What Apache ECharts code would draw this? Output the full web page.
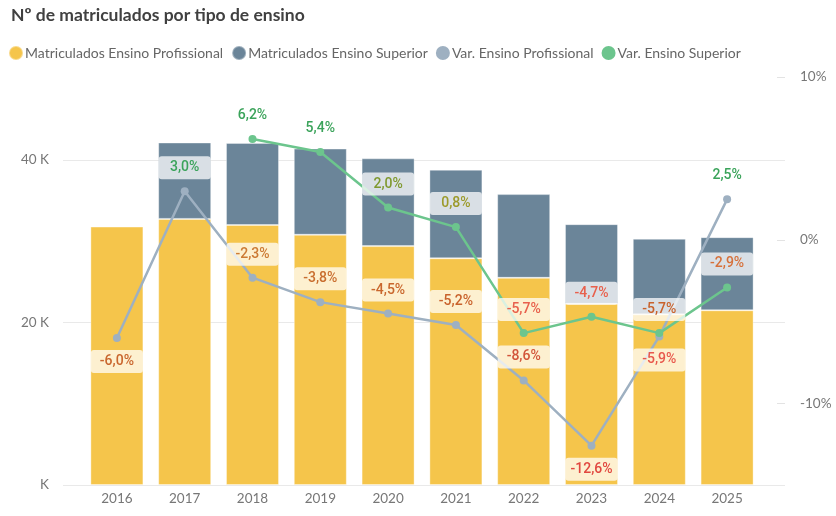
<!DOCTYPE html>
<html>
<head>
<meta charset="utf-8">
<title>Matriculados por tipo de ensino</title>
<script src="https://cdn.jsdelivr.net/npm/echarts@6/dist/echarts.min.js"></script>
<style>
  html, body { margin: 0; padding: 0; background: #fff; }
  #main { width: 836px; height: 516px; }
</style>
</head>
<body>
<div id="main"></div>
<script type="text/javascript">
// data
var years = ['2016', '2017', '2018', '2019', '2020', '2021', '2022', '2023', '2024', '2025'];
var matProfissional = [31800, 32750, 32000, 30800, 29400, 27900, 25500, 22300, 21000, 21500];
var matSuperior = [null, 9400, 10100, 10600, 10800, 10900, 10300, 9800, 9300, 9000];
var varProfissional = [-6.0, 3.0, -2.3, -3.8, -4.5, -5.2, -8.6, -12.6, -5.9, 2.5];
var varSuperior = [null, null, 6.2, 5.4, 2.0, 0.8, -5.7, -4.7, -5.7, -2.9];
var rightTicks = [-10, 0, 10];

// label styling (colours per point, as in the report)
var corProf = ['#c9652d', '#3aa35a', '#cc7a34', '#c96e2f', '#c9672d', '#c9622c', '#d2553a', '#e1473f', '#e8584c', '#3aa35a'];
var corSup = [null, null, '#3aa35a', '#3aa35a', '#7f992e', '#9c9a2a', '#e8604c', '#e8604c', '#c9622c', '#d6703a'];
var posProf = ['bottom', 'top', 'top', 'top', 'top', 'top', 'top', 'bottom', 'bottom', 'top'];

var fontTxt = "'Segoe UI', 'Lato', 'Noto Sans', sans-serif";
var fontLbl = "'Roboto', 'DejaVu Sans', sans-serif";

function pct(v) {
  return v.toFixed(1).replace('.', ',') + '%';
}

function lineData(vals, cores, pos) {
  var out = [];
  for (var i = 0; i < vals.length; i++) {
    if (vals[i] === null) { out.push(null); continue; }
    out.push({
      value: vals[i],
      label: {
        color: cores[i],
        position: pos ? pos[i] : 'top'
      }
    });
  }
  return out;
}

var lblBase = {
  show: true,
  distance: 8,
  fontFamily: fontLbl,
  fontSize: 14,
  fontWeight: 500,
  padding: [0, 0],
  width: 52,
  height: 23,
  lineHeight: 23,
  align: 'center',
  backgroundColor: 'rgba(255,255,255,0.74)',
  borderRadius: 3,
  formatter: function (p) { return pct(p.value); }
};

var myChart = echarts.init(document.getElementById('main'));

var option = {
  animation: false,
  title: {
    text: 'Nº de matriculados por tipo de ensino',
    left: 6,
    top: 1,
    textStyle: { fontFamily: fontTxt, fontSize: 17.5, fontWeight: 'bold', color: '#404040' }
  },
  legend: {
    left: 3,
    top: 40,
    icon: 'circle',
    itemWidth: 14,
    itemHeight: 14,
    itemGap: 8,
    textStyle: { fontFamily: fontTxt, fontSize: 14, color: '#666', padding: [0, 0, 0, -3] },
    data: ['Matriculados Ensino Profissional', 'Matriculados Ensino Superior', 'Var. Ensino Profissional', 'Var. Ensino Superior']
  },
  grid: [
    { left: 63, right: 51, top: 77, bottom: 31 },
    { left: 83, right: 75, top: 77, bottom: 31 }
  ],
  xAxis: [
    { type: 'category', gridIndex: 0, data: years, show: false },
    {
      type: 'category', gridIndex: 1, data: years,
      axisLine: { show: false },
      axisTick: { show: false },
      axisLabel: { color: '#777', fontFamily: fontTxt, fontSize: 13.5, margin: 7 }
    }
  ],
  yAxis: [
    {
      type: 'value', gridIndex: 0, position: 'left',
      min: 0, max: 50215, interval: 20000,
      axisLine: { show: false },
      axisTick: { show: false },
      splitLine: { show: true, showMaxLine: false, lineStyle: { color: '#e9e9e9', width: 1 } },
      axisLabel: {
        showMaxLabel: false,
        color: '#777', fontFamily: fontTxt, fontSize: 13.5, margin: 14,
        formatter: function (v) { return v === 0 ? 'K' : (v / 1000) + ' K'; }
      }
    },
    {
      type: 'value', gridIndex: 0, position: 'right',
      min: -15.01, max: 10,
      axisLine: { show: false },
      axisTick: { show: true, inside: true, length: 8, customValues: rightTicks, lineStyle: { color: '#e3e3e3' } },
      splitLine: { show: false },
      axisLabel: {
        customValues: rightTicks,
        color: '#777', fontFamily: fontTxt, fontSize: 13.5, margin: 15,
        formatter: function (v) { return v + '%'; }
      }
    },
    { type: 'value', gridIndex: 1, min: 0, max: 50215, show: false, splitLine: { show: false } },
    { type: 'value', gridIndex: 1, min: -15.01, max: 10, show: false, splitLine: { show: false } }
  ],
  series: [
    {
      name: 'Matriculados Ensino Profissional',
      type: 'bar', stack: 'mat',
      xAxisIndex: 1, yAxisIndex: 2,
      barWidth: 53,
      itemStyle: { color: '#f5c54b', borderColor: 'rgba(255,255,255,0.35)', borderWidth: 1 },
      data: matProfissional
    },
    {
      name: 'Matriculados Ensino Superior',
      type: 'bar', stack: 'mat',
      xAxisIndex: 1, yAxisIndex: 2,
      barWidth: 53,
      itemStyle: { color: '#6b8599', borderColor: 'rgba(255,255,255,0.35)', borderWidth: 1 },
      data: matSuperior
    },
    {
      name: 'Var. Ensino Profissional',
      type: 'line',
      xAxisIndex: 1, yAxisIndex: 3,
      symbol: 'circle', symbolSize: 8,
      itemStyle: { color: '#9eb0c1' },
      lineStyle: { color: '#9eb0c1', width: 2.5 },
      label: lblBase,
      z: 3,
      data: lineData(varProfissional, corProf, posProf)
    },
    {
      name: 'Var. Ensino Superior',
      type: 'line',
      xAxisIndex: 1, yAxisIndex: 3,
      symbol: 'circle', symbolSize: 8,
      itemStyle: { color: '#6cc58d' },
      lineStyle: { color: '#6cc58d', width: 2.5 },
      label: lblBase,
      z: 3,
      data: lineData(varSuperior, corSup, null)
    }
  ]
};

myChart.setOption(option);
</script>
</body>
</html>
